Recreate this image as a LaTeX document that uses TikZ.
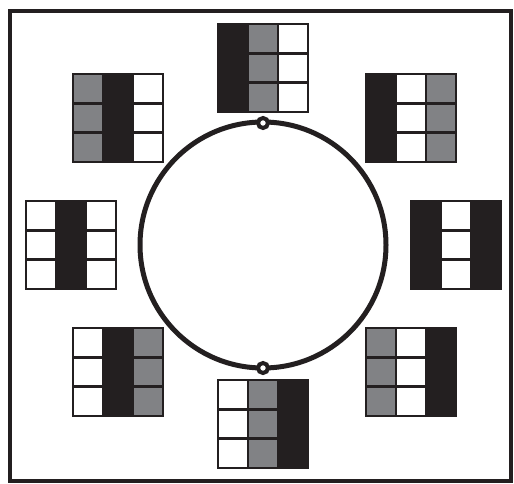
\documentclass[tikz,border=0pt]{standalone}
\usepackage{tikz}
\usetikzlibrary{positioning}
\usepackage{xcolor}

\definecolor{ink}{HTML}{231F20}
\definecolor{midgray}{HTML}{818285}

% one 3x3 panel: centre x, centre y, colours of the three columns
\newcommand{\panel}[5]{%
  \foreach \c/\col in {0/#3,1/#4,2/#5}{
    \foreach \r in {0,1,2}{
      \draw[cell, fill=\col] ({#1-45+\c*30},{#2-44+\r*29.333}) rectangle ++(30,29.333);
    }
  }
  \draw[cell] ({#1-45},{#2-44}) rectangle ++(90,88);
}

\begin{document}
\begin{tikzpicture}[
    x=1pt, y=-1pt,
    frame/.style={draw=ink, line width=4pt},
    ring/.style={draw=ink, line width=5pt},
    knob/.style={circle, draw=ink, fill=white, line width=4pt, minimum size=10pt, inner sep=0pt},
    cell/.style={draw=ink, line width=2.5pt}
]
\useasboundingbox (0,0) rectangle (514,484);

% outer frame and ring
\draw[frame] (10,11) rectangle (511,481);
\coordinate (c) at (263,245);
\draw[ring] (c) circle[radius=123];
\node (topknob) [knob] at (263,123) {};
\node (botknob) [knob] at (263,368) {};

% panels round the ring
\panel{263}{68}{ink}{midgray}{white}
\panel{411}{118}{ink}{white}{midgray}
\panel{456}{245}{ink}{white}{ink}
\panel{411}{372}{midgray}{white}{ink}
\panel{263}{424}{white}{midgray}{ink}
\panel{118}{372}{white}{ink}{midgray}
\panel{71}{245}{white}{ink}{white}
\panel{118}{118}{midgray}{ink}{white}

\end{tikzpicture}
\end{document}
